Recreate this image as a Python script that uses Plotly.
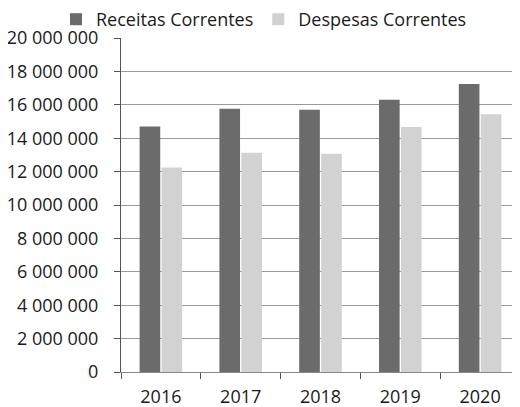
import plotly.graph_objects as go

years = ["2016", "2017", "2018", "2019", "2020"]
receitas = [14700000, 15770000, 15710000, 16300000, 17250000]
despesas = [12250000, 13130000, 13070000, 14670000, 15430000]
y_ticks = [0, 2000000, 4000000, 6000000, 8000000, 10000000, 12000000,
           14000000, 16000000, 18000000, 20000000]
y_labels = ["0", "2 000 000", "4 000 000", "6 000 000", "8 000 000", "10 000 000",
            "12 000 000", "14 000 000", "16 000 000", "18 000 000", "20 000 000"]

FONT = "Open Sans"
FS = 18

fig = go.Figure()
fig.add_bar(x=years, y=receitas, name="Receitas Correntes",
            marker=dict(color="#6b6b6b", line=dict(width=0)))
fig.add_bar(x=years, y=despesas, name="Despesas Correntes",
            marker=dict(color="#d2d2d2", line=dict(width=0)))

# the page body adds an 8px offset, so margins are shifted accordingly
L, R, T, B = 113, 8, 30, 43
plot_w = 520 - L - R
plot_h = 407 - T - B

fig.update_layout(
    width=520, height=407,
    margin=dict(l=L, r=R, t=T, b=B, autoexpand=False),
    paper_bgcolor="white", plot_bgcolor="white",
    barmode="group", bargap=0.45, bargroupgap=0.06,
    font=dict(family=FONT, size=FS, color="#1a1a1a"),
    showlegend=True,
    legend=dict(orientation="h",
                x=(48 - L) / plot_w, y=1 + (T + 7) / plot_h,
                xref="paper", yref="paper",
                xanchor="left", yanchor="top",
                font=dict(family=FONT, size=FS, color="#1a1a1a"),
                itemwidth=30, tracegroupgap=0,
                bgcolor="rgba(0,0,0,0)"),
    xaxis=dict(showgrid=False, showline=True, linecolor="#888", linewidth=1,
               ticks="outside", ticklen=6, tickcolor="#555",
               tickson="boundaries", ticklabelstandoff=8,
               tickfont=dict(family=FONT, size=FS, color="#1a1a1a")),
    yaxis=dict(range=[0, 20000000], tickvals=y_ticks, ticktext=y_labels,
               showgrid=True, gridcolor="#9a9a9a", gridwidth=1,
               showline=True, linecolor="#555", linewidth=1,
               ticks="outside", ticklen=6, tickcolor="#555",
               ticklabelstandoff=12,
               zeroline=False,
               tickfont=dict(family=FONT, size=FS, color="#1a1a1a")),
)

fig.write_html("out.html")
